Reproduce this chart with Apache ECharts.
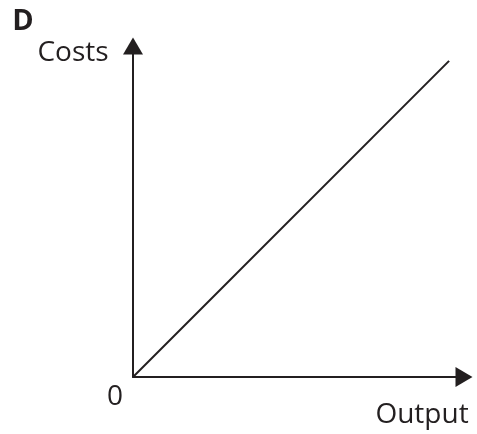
<!DOCTYPE html>
<html>
<head>
<meta charset="utf-8">
<script src="https://cdn.jsdelivr.net/npm/echarts@6/dist/echarts.min.js"></script>
<style>
	html, body { margin: 0; padding: 0; background: #fff; }
	#main { width: 477px; height: 434px; }
</style>
</head>
<body>
<div id="main"></div>
<script>
	// 数据
	var panelLabel = 'D';
	var yName = 'Costs';
	var xName = 'Output';
	var originLabel = '0';
	var costX = [0, 95.5];
	var costY = [0, 95.5];

	var ink = '#231f20';
	var font = '"Open Sans", sans-serif';

	var points = [];
	for (var i = 0; i < costX.length; i++) {
		points.push([costX[i], costY[i]]);
	}

	var textEl = function(txt, x, y, size, weight) {
		return {
			type: 'text',
			x: x,
			y: y,
			style: {
				text: txt,
				fill: ink,
				font: weight + ' ' + size + 'px ' + font,
				textAlign: 'center',
				textVerticalAlign: 'middle'
			}
		};
	};

	var axisCommon = {
		type: 'value', min: 0, max: 100,
		axisLine: { show: true, symbol: ['none', 'triangle'], symbolSize: [20, 17],
			lineStyle: { color: ink, width: 2 } },
		axisTick: { show: false }, axisLabel: { show: false }, splitLine: { show: false }
	};

	var option = {
		animation: false,
		backgroundColor: '#fff',
		grid: { left: 133, right: 13, top: 46, bottom: 57 },
		xAxis: axisCommon,
		yAxis: axisCommon,
		series: [{
			type: 'line',
			data: points,
			symbol: 'none',
			lineStyle: { color: ink, width: 2 }
		}],
		graphic: [
			textEl(panelLabel, 23, 22, 29, 'bold'),
			textEl(yName, 73, 53, 28, 'normal'),
			textEl(originLabel, 115, 397, 28, 'normal'),
			textEl(xName, 422, 415, 28, 'normal')
		]
	};

	var myChart = echarts.init(document.getElementById('main'));
	myChart.setOption(option);
</script>
</body>
</html>
